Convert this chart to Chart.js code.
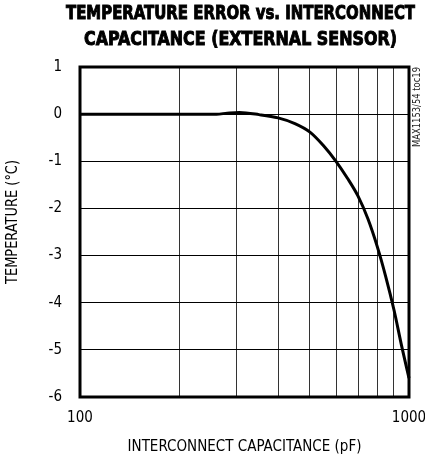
<!DOCTYPE html>
<html><head><meta charset="utf-8">
<script src="https://cdn.jsdelivr.net/npm/chart.js@4/dist/chart.umd.min.js"></script>
<style>html,body{margin:0;padding:0;background:#fff;}#wrap{width:425px;height:459px;}</style>
</head><body><div id="wrap"><canvas id="c" width="425" height="459"></canvas></div>
<script>
const titleLines = ['TEMPERATURE ERROR vs. INTERCONNECT', 'CAPACITANCE (EXTERNAL SENSOR)'];
const noteText = 'MAX1153/54 toc19';
const xAxisTitle = 'INTERCONNECT CAPACITANCE (pF)';
const yAxisTitle = 'TEMPERATURE (°C)';
const capacitance = [100, 200, 260, 280, 305, 350, 400, 450, 500, 550, 600, 650, 700, 750, 800, 850, 900, 950, 1000];
const tempError = [0, 0, 0, 0.02, 0.035, -0.01, -0.08, -0.2, -0.38, -0.67, -1.0, -1.36, -1.74, -2.22, -2.8, -3.45, -4.15, -4.92, -5.6];
const xGridValues = [100, 200, 300, 400, 500, 600, 700, 800, 900, 1000];
const xTickLabels = ['100', '1000'];
const yTickValues = [1, 0, -1, -2, -3, -4, -5, -6];

const FONT = '"Liberation Sans Narrow", "DejaVu Sans Condensed", "Roboto", sans-serif';

function fitText(ctx, text, cx, cy, width, bold) {
  const w = ctx.measureText(text).width;
  ctx.save();
  ctx.translate(cx, cy);
  ctx.scale(width / w, 1);
  ctx.fillText(text, 0, 0);
  if (bold) { ctx.lineWidth = 0.9; ctx.strokeText(text, 0, 0); }
  ctx.restore();
}

const extras = {
  id: 'extras',
  afterDraw(chart) {
    const {ctx, chartArea: a} = chart;
    ctx.save();
    ctx.strokeStyle = '#000';
    ctx.lineWidth = 3;
    ctx.strokeRect(a.left, a.top, a.right - a.left, a.bottom - a.top);
    ctx.fillStyle = '#000';
    ctx.textAlign = 'center';
    ctx.textBaseline = 'middle';
    ctx.font = 'bold 19px ' + FONT;
    fitText(ctx, titleLines[0], 240.5, 14, 349, true);
    fitText(ctx, titleLines[1], 240.5, 40, 313, true);
    // y axis title
    ctx.save();
    ctx.font = '15px ' + FONT;
    ctx.translate(13, 222);
    ctx.rotate(-Math.PI / 2);
    fitText(ctx, yAxisTitle, 0, 0, 124, false);
    ctx.restore();
    // side note
    ctx.translate(417, 67);
    ctx.rotate(-Math.PI / 2);
    ctx.textAlign = 'right';
    ctx.font = '11px ' + FONT;
    ctx.fillStyle = '#222';
    const w = ctx.measureText(noteText).width;
    ctx.scale(80 / w, 1);
    ctx.fillText(noteText, 0, 0);
    ctx.restore();
  }
};

new Chart(document.getElementById('c'), {
  type: 'line',
  data: {
    datasets: [{
      data: capacitance.map((c, i) => ({x: c, y: tempError[i]})),
      borderColor: '#000',
      borderWidth: 3,
      pointRadius: 0,
      cubicInterpolationMode: 'monotone',
      fill: false,
      clip: false
    }]
  },
  options: {
    responsive: false,
    devicePixelRatio: 1,
    animation: false,
    layout: {padding: {top: 67, right: 16, left: 0, bottom: 0}},
    plugins: {legend: {display: false}, tooltip: {enabled: false}, title: {display: false}},
    scales: {
      x: {
        type: 'logarithmic',
        min: 100, max: 1000,
        afterFit(s) { s.height = 62; s.paddingLeft = 0; s.paddingRight = 0; },
        afterBuildTicks(s) { s.ticks = xGridValues.map(v => ({value: v})); },
        grid: {color: '#333', lineWidth: 1, drawTicks: false},
        border: {display: false},
        ticks: {
          autoSkip: false, maxRotation: 0, padding: 12, color: '#000',
          font: {family: FONT, size: 15},
          callback: (v) => xTickLabels.includes(String(v)) ? String(v) : ''
        },
        title: {display: true, text: xAxisTitle, color: '#000', font: {family: FONT, size: 15}, padding: {top: 0, bottom: 3}}
      },
      y: {
        min: -6, max: 1,
        afterFit(s) { s.width = 80; s.paddingTop = 0; s.paddingBottom = 0; },
        afterBuildTicks(s) { s.ticks = yTickValues.map(v => ({value: v})); },
        grid: {color: '#000', lineWidth: 1, drawTicks: false},
        border: {display: false},
        ticks: {padding: 18, color: '#000', font: {family: FONT, size: 15}, callback: v => String(v)},
        title: {display: false}
      }
    }
  },
  plugins: [extras]
});
</script>
</body></html>
